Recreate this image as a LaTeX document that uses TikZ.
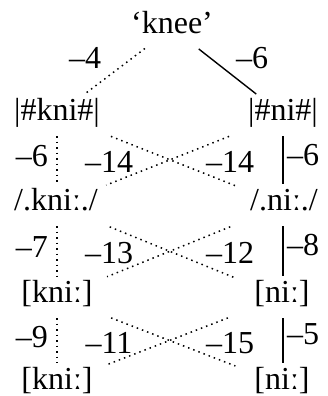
\documentclass[tikz,border=0pt]{standalone}
\usepackage{fontspec}
\setmainfont{Liberation Serif}
\begin{document}
\begin{tikzpicture}
% OT tableau lattice for 'knee'
\def\unitsz{0.5pt}
\providecommand{\otLineWidth}{0.7pt}
\providecommand{\otGapV}{10.5pt}
\providecommand{\otGapTop}{17pt}
\tikzset{
  form/.style={inner sep=0pt, text height=0.7em, text depth=0.2em, anchor=base,
    font=\fontsize{16}{19}\selectfont},
  cost/.style={form},
  loser/.style={dotted, line width=0.75pt},
}
\begin{scope}[x=\unitsz, y=-\unitsz, line width=\otLineWidth]
  \useasboundingbox (0,0) rectangle (327,396);
  % Meaning
  \node[form] (knee) at (172,33) {‘knee’};
  % Candidate rows
  \node[form] (kniA) at (57,120) {|\#kni\#|};
  \node[form] (niA) at (283,120) {|\#ni\#|};
  \node[form] (kniB) at (56,210) {/.kniː./};
  \node[form] (niB) at (284,210) {/.niː./};
  \node[form] (kniC) at (57,302) {[kniː]};
  \node[form] (niC) at (282,302) {[niː]};
  \node[form] (kniD) at (57,389) {[kniː]};
  \node[form] (niD) at (282,389) {[niː]};
  % Top links
  \draw[loser, shorten <=\otGapTop, shorten >=\otGapTop] (knee.center) -- (kniA.center);
  \draw[shorten <=\otGapTop, shorten >=\otGapTop] (knee.center) -- (niA.center);
  \node[cost] (cTopL) at (85,68) {--4};
  \node[cost] (cTopR) at (252,68) {--6};
  % Vertical links
  \draw[loser, shorten <=\otGapV, shorten >=\otGapV] (kniA.center) -- (kniA.center |- kniB.center);
  \draw[loser, shorten <=\otGapV, shorten >=\otGapV] (kniA.center |- kniB.center) -- (kniA.center |- kniC.center);
  \draw[loser, shorten <=\otGapV, shorten >=\otGapV] (kniC.center) -- (kniC.center |- kniD.center);
  \draw[shorten <=\otGapV, shorten >=\otGapV] (niA.center) -- (niA.center |- niB.center);
  \draw[shorten <=\otGapV, shorten >=\otGapV] (niA.center |- niB.center) -- (niA.center |- niC.center);
  \draw[shorten <=\otGapV, shorten >=\otGapV] (niA.center |- niC.center) -- (niA.center |- niD.center);
  % Crossing links
  \draw[loser, shorten <=29pt, shorten >=25pt] (kniA.center) -- (niB.center);
  \draw[loser, shorten <=29pt, shorten >=27pt] (niA.center) -- (kniB.center);
  \draw[loser, shorten <=29pt, shorten >=25pt] (kniB.center) -- (niC.center);
  \draw[loser, shorten <=29pt, shorten >=27pt] (niB.center) -- (kniC.center);
  \draw[loser, shorten <=29pt, shorten >=25pt] (kniC.center) -- (niD.center);
  \draw[loser, shorten <=29pt, shorten >=27pt] (niC.center) -- (kniD.center);
  % Costs
  \node[cost] (cAL) at (32,166) {--6};
  \node[cost] (cAX) at (109,172) {--14};
  \node[cost] (cAY) at (230,172) {--14};
  \node[cost] (cAR) at (303,165) {--6};
  \node[cost] (cBL) at (32,257) {--7};
  \node[cost] (cBX) at (109,263) {--13};
  \node[cost] (cBY) at (230,263) {--12};
  \node[cost] (cBR) at (303,255) {--8};
  \node[cost] (cCL) at (32,347) {--9};
  \node[cost] (cCX) at (109,353) {--11};
  \node[cost] (cCY) at (230,353) {--15};
  \node[cost] (cCR) at (303,344) {--5};
\end{scope}
\end{tikzpicture}
\end{document}
